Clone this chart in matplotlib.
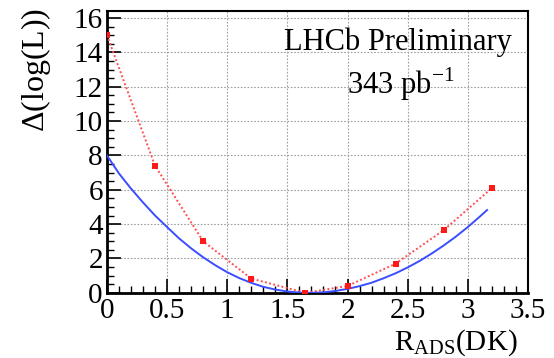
import matplotlib
matplotlib.use("Agg")
import matplotlib.pyplot as plt
from matplotlib.ticker import MultipleLocator

# Data
red_x = [0.0, 0.4, 0.8, 1.2, 1.65, 2.0, 2.4, 2.8, 3.2]
red_y = [15.0, 7.4, 3.0, 0.83, 0.0, 0.4, 1.7, 3.65, 6.1]

blue_x = [0.0, 0.1, 0.2, 0.3, 0.4, 0.5, 0.6, 0.7, 0.8, 0.9, 1.0, 1.1, 1.2, 1.3,
          1.4, 1.5, 1.6, 1.7, 1.8, 1.9, 2.0, 2.1, 2.2, 2.3, 2.4, 2.5, 2.6, 2.7,
          2.8, 2.9, 3.0, 3.1, 3.16]
blue_y = [8.0, 6.95, 6.07, 5.26, 4.50, 3.83, 3.17, 2.59, 2.07, 1.61, 1.20, 0.86,
          0.58, 0.35, 0.19, 0.08, 0.015, 0.0, 0.03, 0.11, 0.23, 0.39, 0.59, 0.85,
          1.14, 1.48, 1.86, 2.29, 2.76, 3.27, 3.83, 4.44, 4.82]

x_ticks = [0, 0.5, 1, 1.5, 2, 2.5, 3, 3.5]
x_tick_labels = ["0", "0.5", "1", "1.5", "2", "2.5", "3", "3.5"]
y_ticks = [0, 2, 4, 6, 8, 10, 12, 14, 16]
y_tick_labels = ["0", "2", "4", "6", "8", "10", "12", "14", "16"]

plt.rcParams['font.family'] = ['Liberation Serif', 'DejaVu Serif']
plt.rcParams['mathtext.fontset'] = 'custom'
plt.rcParams['mathtext.rm'] = 'Liberation Serif'

fig = plt.figure(figsize=(5.54, 3.58), dpi=100)
ax = fig.add_axes([0.193, 0.182, 0.760, 0.787])

ax.plot(red_x, red_y, linestyle=(0, (1, 1.2)), color='#ff5050', lw=1.4, zorder=3)
ax.plot(red_x, red_y, linestyle='none', marker='s', ms=4.5, color='#ff1a1a',
        markeredgewidth=0, zorder=4)
ax.plot(blue_x, blue_y, color='#3a4dff', lw=1.4, zorder=3)

ax.set_xlim(0, 3.5)
ax.set_ylim(0, 16.4)
ax.set_xticks(x_ticks)
ax.set_xticklabels(x_tick_labels)
ax.set_yticks(y_ticks)
ax.set_yticklabels(y_tick_labels)
ax.xaxis.set_minor_locator(MultipleLocator(0.1))
ax.yaxis.set_minor_locator(MultipleLocator(0.5))

ax.grid(True, which='major', linestyle=(0, (1.5, 1.5)), color='#a0a0a0', lw=0.8)
ax.tick_params(axis='both', which='major', direction='in', length=10, width=1.2,
               labelsize=21, top=False, right=False)
ax.tick_params(axis='both', which='minor', direction='in', length=5, width=1.0,
               top=False, right=False)
ax.tick_params(axis='x', which='major', pad=4)
ax.tick_params(axis='y', which='major', pad=3)

for s in ['left', 'bottom']:
    ax.spines[s].set_linewidth(2.0)
for s in ['top', 'right']:
    ax.spines[s].set_linewidth(1.5)

ax.set_ylabel(r'$\Delta$(log(L))', fontsize=23)
ax.yaxis.set_label_coords(-0.128, 0.79)
fig.text(0.935, 0.022, r'R$_{\mathrm{ADS}}$(DK)', fontsize=21, ha='right',
         va='baseline')

ax.text(0.691, 0.89, 'LHCb Preliminary', transform=ax.transAxes, fontsize=22,
        ha='center', va='center')
ax.text(0.698, 0.74, r'343 pb$^{\mathrm{-1}}$', transform=ax.transAxes, fontsize=22,
        ha='center', va='center')

fig.savefig('out.png', dpi=100)
